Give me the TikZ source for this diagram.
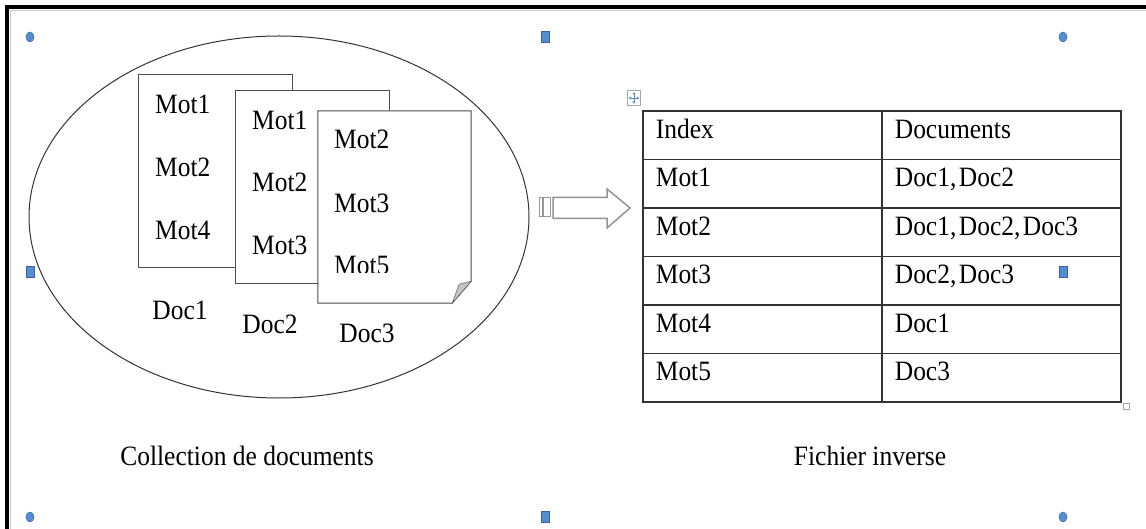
\documentclass[tikz,border=0pt]{standalone}
\usepackage{fontspec}
\setmainfont[FakeStretch=0.91]{Liberation Serif}
\usetikzlibrary{matrix,
	calc,
	positioning,
	shapes.geometric,
	arrows.meta}
\definecolor{poignee}{RGB}{84,141,212}
\definecolor{poigneebord}{RGB}{58,98,168}
\newcommand{\virg}{,\hspace{2.5pt}}

\begin{document}
\begin{tikzpicture}[x=1pt, y=-1pt,
		font=\fontsize{28}{30}\selectfont,
		feuille/.style={draw=black!70, line width=1pt, fill=white, minimum width=154pt, minimum height=193pt, inner sep=0pt},
		mot/.style={anchor=base west, inner sep=0pt},
		titre/.style={anchor=base, inner sep=0pt},
		rond/.style={ellipse, draw=poigneebord, fill=poignee, line width=0.5pt, minimum width=8pt, minimum height=10pt, inner sep=0pt},
		carre/.style={rectangle, draw=poigneebord, fill=poignee, line width=0.5pt, minimum width=8pt, minimum height=11pt, inner sep=0pt}]
		\useasboundingbox (0,0) rectangle (1146,529);
		% cadre
		\draw [line width=4.5pt] (1150,7) -- (7,7) -- (7,535);
		\draw [gray!40, line width=0.8pt] (1150,10.5) -- (10.5,10.5) -- (10.5,535);

		% collection de documents
		\node [draw=black!80, line width=1pt, ellipse, minimum width=500pt, minimum height=362pt, inner sep=0pt] (coll) at (279,217) {};
		\node [feuille] (doc1) at (215,171.5) {};
		\node [mot] (m11) at (155,113.5) {Mot1};
		\node [mot] (m12) at (155,176.5) {Mot2};
		\node [mot] (m14) at (155,239.5) {Mot4};
		\node [feuille] (doc2) at (312.5,187.5) {};
		\node [mot] (m21) at (252,129.5) {Mot1};
		\node [mot] (m22) at (252,191.5) {Mot2};
		\node [mot] (m23) at (252,254.5) {Mot3};
		\node [minimum width=153pt, minimum height=192pt, inner sep=0pt] (doc3) at (394.5,207) {};
		\draw [draw=black!70, line width=1pt, fill=white] (doc3.north west) -- (doc3.north east)
			-- ($(doc3.south east)+(0,-22)$) -- ($(doc3.south east)+(-19,0)$) -- (doc3.south west) -- cycle;
		\draw [draw=black!60, fill=gray!45, line width=0.6pt] ($(doc3.south east)+(-19,0)$)
			.. controls ($(doc3.south east)+(-16,-10)$) .. ($(doc3.south east)+(-12,-19)$)
			-- ($(doc3.south east)+(0,-22)$) -- cycle;
		\node [mot] (m32) at (334,148.5) {Mot2};
		\node [mot] (m33) at (334,212.5) {Mot3};
		\begin{scope}
			\clip (318,111) rectangle (471,273);
			\node [mot] (m35) at (334,275) {Mot5};
		\end{scope}
		\node [titre] (l1) at (180,319.5) {Doc1};
		\node [titre] (l2) at (270,333.5) {Doc2};
		\node [titre] (l3) at (367,342.5) {Doc3};
		\node [titre] (tcoll) at (247,465.5) {Collection de documents};

		% fleche
		\draw [gray!80, line width=1pt] (539,198) rectangle (542,217);
		\draw [gray!80, line width=1pt] (543.5,198) rectangle (550.5,217);
		\draw [gray!85, line width=1.5pt, fill=white] (553,197.5) -- (607,197.5) -- (607,189) -- (630,208)
			-- (607,228) -- (607,218.5) -- (553,218.5) -- cycle;

		% fichier inverse
		\matrix [matrix of nodes, anchor=north west, inner sep=0pt, column sep=-1.3pt, row sep=-1.3pt,
			nodes={draw=black!80, line width=1.3pt, minimum height=48.5pt, text width=213pt, inner xsep=13pt,
				inner ysep=0pt, text height=20pt, text depth=14pt, align=left}]
		(tab) at (642,110) {
			Index & Documents \\
			Mot1 & Doc1\virg Doc2 \\
			Mot2 & Doc1\virg Doc2\virg Doc3 \\
			Mot3 & Doc2\virg Doc3 \\
			Mot4 & Doc1 \\
			Mot5 & Doc3 \\};
		\node [titre] (tinv) at (870,465) {Fichier inverse};
		\node [draw=gray!70, fill=white, line width=0.6pt, minimum width=13pt, minimum height=15pt, inner sep=0pt] (dep) at (634,98) {};
		\draw [poignee, line width=0.8pt, {Latex[length=2.5pt,width=3pt]}-{Latex[length=2.5pt,width=3pt]}]
			($(dep)+(-5.5,0)$) -- ($(dep)+(5.5,0)$);
		\draw [poignee, line width=0.8pt, {Latex[length=2.5pt,width=3pt]}-{Latex[length=2.5pt,width=3pt]}]
			($(dep)+(0,-6)$) -- ($(dep)+(0,6)$);
		\node [draw=gray!70, fill=white, line width=0.6pt, minimum size=6pt, inner sep=0pt] (redim) at (1126,406) {};

		% poignees
		\node [rond] (p1) at (30,37) {};
		\node [carre] (p2) at (545,37) {};
		\node [rond] (p3) at (1063,37) {};
		\node [carre] (p4) at (30,272) {};
		\node [carre] (p5) at (1063,272) {};
		\node [rond] (p6) at (30,517) {};
		\node [carre] (p7) at (545,517) {};
		\node [rond] (p8) at (1063,517) {};
	\end{tikzpicture}
\end{document}
